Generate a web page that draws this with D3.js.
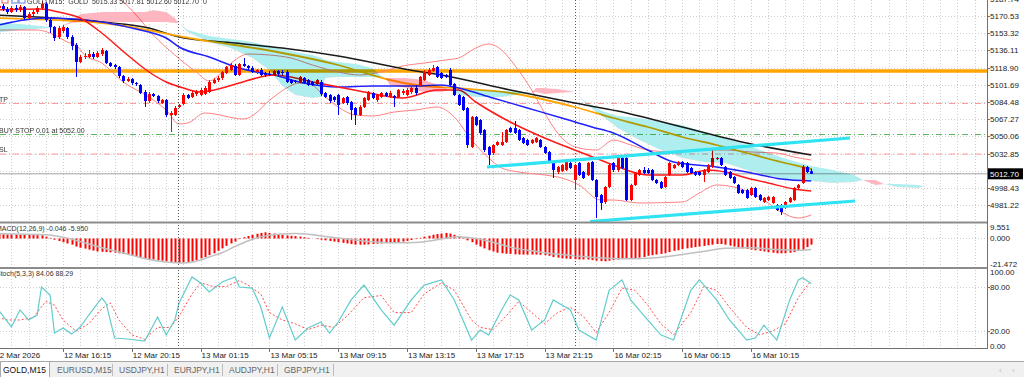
<!DOCTYPE html>
<meta charset="utf-8">
<style>
body { margin: 0; background: #fff; }
text { font-family: 'Liberation Sans', Arial, sans-serif; font-size: 8px; fill: #222; }
.small { font-size: 7px; fill: #333; }
.tab { font-size: 8.5px; fill: #555; }
</style>
<svg width="1024" height="377"></svg>
<script src="https://d3js.org/d3.v7.min.js"></script>
<script>

// ---- price data (GOLD, M15), one value per bar ----
var barOpen = [5176.5,5178.5,5180.5,5177.5,5174.5,5178.5,5176.5,5179.5,5168.5,5172.5,
5174.5,5178.5,5182.5,5166.5,5159.5,5149.5,5155.5,5158.5,5149.5,5141.5,
5124.5,5129.5,5129.5,5132.5,5129.5,5132.5,5135.5,5123.5,5121.5,5119.5,
5110.5,5105.5,5107.5,5103.5,5101.5,5094.5,5085.5,5092.5,5090.5,5083.5,
5086.5,5071.5,5071.5,5079.5,5082.5,5091.5,5089.5,5092.5,5091.5,5092.5,
5094.5,5103.5,5106.5,5108.5,5113.5,5116.5,5120.5,5111.5,5122.5,5120.5,
5118.5,5114.5,5116.5,5113.5,5112.5,5111.5,5115.5,5114.5,5114.5,5106.5,
5105.5,5104.5,5108.5,5106.5,5104.5,5102.5,5104.5,5093.5,5091.5,5089.5,
5091.5,5083.5,5089.5,5084.5,5078.5,5071.5,5079.5,5086.5,5093.5,5086.5,
5089.5,5093.5,5089.5,5090.5,5089.5,5093.5,5091.5,5094.5,5098.5,5101.5,
5106.5,5111.5,5115.5,5119.5,5113.5,5111.5,5116.5,5102.5,5091.5,5089.5,
5078.5,5039.5,5069.5,5066.5,5056.5,5039.5,5033.5,5041.5,5041.5,5044.5,
5058.5,5058.5,5056.5,5048.5,5046.5,5043.5,5044.5,5046.5,5039.5,5034.5,
5024.5,5014.5,5015.5,5016.5,5023.5,5006.5,5023.5,5014.5,5011.5,5024.5,
5006.5,4991.5,4984.5,4999.5,5023.5,5016.5,5028.5,5028.5,4986.5,5001.5,
5011.5,5016.5,5016.5,5016.5,5006.5,5004.5,4999.5,5011.5,5018.5,5021.5,
5024.5,5023.5,5018.5,5014.5,5014.5,5011.5,5014.5,5019.5,5027.5,5028.5,
5019.5,5014.5,5009.5,5001.5,4996.5,4996.5,4991.5,4998.5,4991.5,4984.5,
4986.5,4983.5,4981.5,4981.5,4978.5,4984.5,4986.5,4998.5,5003.5,5019.5,5015.33];

var barHigh = [5180.5,5183.5,5182.5,5179.5,5180.5,5181.5,5181.5,5180.5,5174.5,5176.5,
5180.5,5185.5,5184.5,5168.5,5160.5,5160.5,5161.5,5159.5,5151.5,5143.5,
5131.5,5133.5,5136.5,5134.5,5135.5,5138.5,5136.5,5124.5,5122.5,5120.5,
5111.5,5109.5,5108.5,5104.5,5102.5,5096.5,5094.5,5093.5,5091.5,5087.5,
5087.5,5075.5,5080.5,5082.5,5093.5,5092.5,5095.5,5096.5,5098.5,5100.5,
5106.5,5108.5,5110.5,5115.5,5120.5,5123.5,5122.5,5123.5,5128.5,5121.5,
5120.5,5117.5,5118.5,5114.5,5115.5,5116.5,5116.5,5116.5,5116.5,5107.5,
5106.5,5110.5,5109.5,5107.5,5105.5,5107.5,5106.5,5094.5,5092.5,5090.5,
5092.5,5089.5,5090.5,5085.5,5079.5,5081.5,5089.5,5095.5,5094.5,5092.5,
5094.5,5094.5,5095.5,5091.5,5097.5,5097.5,5098.5,5099.5,5101.5,5110.5,
5116.5,5118.5,5121.5,5120.5,5114.5,5112.5,5118.5,5103.5,5092.5,5090.5,
5079.5,5070.5,5070.5,5067.5,5057.5,5040.5,5042.5,5045.5,5054.5,5057.5,
5059.5,5065.5,5057.5,5049.5,5047.5,5047.5,5049.5,5047.5,5040.5,5035.5,
5025.5,5020.5,5022.5,5027.5,5024.5,5022.5,5024.5,5015.5,5024.5,5025.5,
5007.5,4992.5,5000.5,5022.5,5024.5,5030.5,5029.5,5029.5,5002.5,5014.5,
5017.5,5019.5,5018.5,5017.5,5007.5,5005.5,5010.5,5024.5,5022.5,5025.5,
5025.5,5024.5,5019.5,5015.5,5015.5,5017.5,5022.5,5036.5,5029.5,5029.5,
5020.5,5015.5,5010.5,5002.5,4997.5,4997.5,4999.5,4999.5,4992.5,4989.5,
4990.5,4990.5,4982.5,4982.5,4985.5,4989.5,4999.5,5002.5,5021.5,5020.5,5017.81];

var barLow = [5174.5,5176.5,5175.5,5172.5,5173.5,5174.5,5174.5,5166.5,5167.5,5170.5,
5172.5,5176.5,5164.5,5153.5,5145.5,5147.5,5153.5,5147.5,5136.5,5109.5,
5123.5,5127.5,5128.5,5127.5,5128.5,5130.5,5122.5,5119.5,5117.5,5108.5,
5103.5,5104.5,5101.5,5100.5,5092.5,5079.5,5083.5,5089.5,5083.5,5082.5,
5069.5,5054.5,5070.5,5078.5,5081.5,5087.5,5088.5,5090.5,5090.5,5091.5,
5093.5,5102.5,5104.5,5106.5,5112.5,5115.5,5110.5,5110.5,5119.5,5116.5,
5113.5,5112.5,5110.5,5109.5,5110.5,5110.5,5110.5,5111.5,5103.5,5102.5,
5103.5,5103.5,5102.5,5100.5,5100.5,5101.5,5090.5,5088.5,5083.5,5084.5,
5071.5,5082.5,5081.5,5066.5,5061.5,5070.5,5078.5,5085.5,5087.5,5084.5,
5088.5,5089.5,5088.5,5079.5,5088.5,5091.5,5090.5,5092.5,5091.5,5100.5,
5105.5,5110.5,5114.5,5108.5,5107.5,5108.5,5100.5,5090.5,5080.5,5075.5,
5038.5,5038.5,5060.5,5051.5,5034.5,5021.5,5031.5,5040.5,5040.5,5043.5,
5053.5,5052.5,5045.5,5042.5,5040.5,5042.5,5043.5,5038.5,5032.5,5023.5,
5008.5,5012.5,5014.5,5015.5,5017.5,4996.5,5010.5,5007.5,5010.5,5005.5,
4968.5,4976.5,4982.5,4998.5,5014.5,5014.5,5017.5,4985.5,4985.5,5000.5,
5010.5,5012.5,5012.5,5005.5,5002.5,4997.5,4998.5,5010.5,5017.5,5020.5,
5018.5,5013.5,5012.5,5010.5,5010.5,5004.5,5013.5,5018.5,5026.5,5020.5,
5010.5,5007.5,5002.5,4992.5,4992.5,4987.5,4990.5,4988.5,4985.5,4983.5,
4985.5,4982.5,4975.5,4971.5,4977.5,4983.5,4985.5,4997.5,5002.5,5013.5,5012.60];

var barClose = [5178.5,5180.5,5177.5,5174.5,5178.5,5176.5,5179.5,5168.5,5172.5,5174.5,
5178.5,5182.5,5166.5,5159.5,5148.5,5158.5,5159.5,5149.5,5140.5,5124.5,
5129.5,5130.5,5132.5,5129.5,5133.5,5136.5,5123.5,5120.5,5119.5,5110.5,
5105.5,5107.5,5103.5,5102.5,5093.5,5085.5,5092.5,5090.5,5085.5,5086.5,
5071.5,5073.5,5078.5,5081.5,5091.5,5088.5,5093.5,5094.5,5096.5,5098.5,
5104.5,5106.5,5108.5,5114.5,5119.5,5121.5,5111.5,5122.5,5120.5,5118.5,
5114.5,5116.5,5111.5,5111.5,5112,5115.5,5112.5,5114,5104.5,5103.5,
5104.5,5109.5,5103.5,5101.5,5101.5,5106.5,5092.5,5089.5,5085.5,5086.5,
5081.5,5088.5,5083.5,5076.5,5071.5,5079.5,5088.5,5094.5,5088.5,5091.5,
5093.5,5090.5,5093.5,5088.5,5096.5,5095.5,5096.5,5098.5,5093.5,5109.5,
5114.5,5116.5,5118.5,5109.5,5108.5,5109.5,5101.5,5091.5,5081.5,5076.5,
5041.5,5069.5,5061.5,5053.5,5036.5,5031.5,5041.5,5044.5,5044.5,5056.5,
5054.5,5053.5,5046.5,5043.5,5041.5,5046.5,5048.5,5039.5,5033.5,5024.5,
5016.5,5019.5,5021.5,5026.5,5018.5,5021.5,5011.5,5008.5,5023.5,5006.5,
4989.5,4983.5,4999.5,5021.5,5016.5,5029.5,5018.5,4986.5,5001.5,5013.5,
5016.5,5013.5,5013.5,5006.5,5003.5,4998.5,5009.5,5023.5,5021.5,5024.5,
5019.5,5014.5,5013.5,5011.5,5011.5,5016.5,5021.5,5028.5,5028.5,5021.5,
5011.5,5008.5,5003.5,4993.5,4993.5,4988.5,4998.5,4989.5,4986.5,4988.5,
4989.5,4989.5,4976.5,4974.5,4984.5,4988.5,4998.5,5001.5,5019.5,5014.5,5012.70];

// ---- indicator lines, read as [bar, value] points ----
var maFast = [[0,5176.5],[11,5177.5],[15,5174.5],[20,5168.5],[25,5153.5],[31,5131.5],[36,5114.5],[40,5104.5],[44,5098.5],[48,5094.5],[50,5095.5],[57,5103.5],[61,5108.5],[65,5111.5],[69,5109.5],[72,5106.5],[80,5099.5],[86,5094.5],[95,5088.5],[103,5096.5],[108,5096.5],[112,5084.5],[120,5064.5],[128,5048.5],[135,5036.5],[141,5026.5],[144,5021.5],[152,5011.5],[160,5011.5],[166,5016.5],[170,5014.5],[175,5008.5],[180,5003.5],[186,4997.5],[190,4995.5]];
var maMid = [[0,5160.5],[12,5168.5],[25,5164.5],[32,5158.5],[36,5154.5],[40,5148.5],[43,5139.5],[50,5129.5],[57,5118.5],[61,5114.5],[65,5111.5],[72,5103.5],[80,5099.5],[88,5100.5],[98,5100.5],[104,5101.5],[108,5098.5],[116,5088.5],[124,5078.5],[132,5068.5],[139,5059.5],[144,5053.5],[152,5036.5],[158,5024.5],[168,5019.5],[175,5014.5],[183,5007.5],[190,5005.5]];
var maSlow = [[0,5168.5],[25,5163.5],[48,5146.5],[56,5141.5],[67,5133.5],[80,5121.5],[92,5106.5],[98,5101.5],[107,5098.5],[120,5093.5],[135,5079.5],[144,5068.5],[152,5059.5],[160,5049.5],[168,5041.5],[175,5033.5],[183,5024.5],[188,5019.5],[190,5017.5]];
var maLong = [[0,5171.5],[25,5164.5],[36,5158.5],[43,5149.5],[56,5143.5],[67,5138.5],[80,5130.5],[98,5115.5],[104,5111.5],[120,5096.5],[135,5083.5],[145,5075.5],[160,5059.5],[175,5043.5],[190,5031.5]];
var bandUpper = [[0,5195],[10,5200],[20,5200],[25,5196],[28,5191.5],[33,5171.5],[37,5151.5],[42,5131.5],[47,5114.5],[50,5105.5],[53,5114.5],[56,5126.5],[59,5132.5],[64,5131.5],[69,5128.5],[74,5121.5],[80,5114.5],[85,5111.5],[90,5114.5],[95,5120.5],[100,5123.5],[105,5126.5],[108,5128.5],[112,5138.5],[115,5142.5],[118,5136.5],[121,5121.5],[125,5096.5],[128,5073.5],[132,5048.5],[136,5038.5],[140,5036.5],[144,5046.5],[148,5041.5],[152,5036.5],[158,5034.5],[165,5036.5],[170,5036.5],[176,5034.5],[182,5033.5],[186,5029.5],[190,5026.5]];
var bandLower = [[0,5156.5],[10,5156.5],[14,5151.5],[17,5144.5],[19,5141.5],[21,5131.5],[25,5123.5],[30,5104.5],[36,5089.5],[40,5076.5],[43,5062.5],[45,5063.5],[49,5073.5],[58,5067.5],[65,5089.5],[68,5098.5],[71,5103.5],[74,5101.5],[76,5093.5],[80,5079.5],[84,5071.5],[88,5070.5],[93,5074.5],[98,5076.5],[103,5079.5],[107,5069.5],[111,5046.5],[115,5028.5],[118,5018.5],[122,5014.5],[128,5011.5],[132,5008.5],[136,5001.5],[141,4986.5],[144,4986.5],[150,4983.5],[160,4984.5],[164,4993.5],[168,5001.5],[172,4999.5],[179,4986.5],[183,4974.5],[187,4968.5],[190,4971.5]];

// Ichimoku cloud (shifted 26 bars forward)
var cloudBars = [0,6,13,15,18,20,25,35,37,40,42,43,45,50,55,60,64,67,70,74,76,77,80,84,88,90,91,92,96,100,104,106,108,112,118,124,125,126,128,131,134,135,137,140,142,145,150,155,160,165,170,175,180,185,190,195,200,202,205,207,210,215,216];
var spanA = [5164.5,5162.5,5159.5,5159,5163.5,5164.5,5164.5,5164.5,5164.5,5164.5,5163.5,5163.5,5156.5,5150.5,5147.5,5144.5,5140.5,5137.5,5134.5,5131.5,5128.5,5126.5,5124.5,5122.5,5118.5,5110.5,5108.5,5101.5,5098.5,5094.5,5094.5,5096.5,5096.5,5096.5,5095.5,5094.5,5094,5094.5,5092.5,5093.5,5094.5,5094.5,5086.5,5078.5,5074.5,5070.5,5068.5,5064.5,5061.5,5054.5,5048.5,5041.5,5033.5,5026.5,5020.5,5016.5,5011.5,5006.5,5001.5,5002.5,5002.5,5001.5,5000];
var spanB = [5153.5,5156.5,5158.5,5159,5165.5,5172.5,5174.5,5174.5,5176.5,5174.5,5168.5,5163.5,5154.5,5144.5,5138.5,5128.5,5116.5,5100.5,5091.5,5088.5,5089.5,5108.5,5109.5,5109.5,5109.5,5109.5,5108.5,5108.5,5108.5,5106.5,5100.5,5096.5,5091.5,5089.5,5089.5,5093.5,5094,5098.5,5098.5,5097.5,5095.5,5094.5,5085.5,5074.5,5068.5,5058.5,5046.5,5036.5,5028.5,5024.5,5023.5,5016.5,5010.5,5006.5,5005.5,5003.5,5004.5,5006.5,5006.5,5002.5,4999.5,4998.5,5000];

// MACD(12,26,9): histogram per bar and signal points
var macdHist = [3.6,3.5,3.4,3.3,3.3,3.2,3.1,3.0,2.9,2.8,2.7,2.6,
1.5,0.5,-1,-2,-3,-4,-5,-6.5,-7.5,
-8.2,-9,-9.8,-10.5,-10.8,-11,-11.2,-11.5,-12,-12.5,
-13.2,-14,-14.5,-15,-15.8,-16.5,-17,-17.5,-18,-18.5,-19,-19.5,-20,
-19.5,-19,-18.5,-17.5,-16,-15,-13.5,-12,-10,-8,-6,-4,-2.5,-0.5,
1,2,3,3.8,4.5,5,4.5,4,3.5,3,2.5,2.2,2,
1.5,1,0.5,0,-0.5,-1,-1.5,-2,-2.5,-3,-3.5,-4,-4.5,-5,-5,-5,
-4.8,-4.5,-4.2,-4,-3.8,-3.5,-3.2,-3,-2.5,-2,-1.2,-0.5,0.5,
1.5,2.2,3,3.6,4,4.5,4,3,2,0.5,-1.5,
-3,-5,-6.5,-8,-9.5,-10.5,-11.5,-12,-12.3,-12.5,-12.8,-13,-13,-13,-13,
-13,-13.2,-13.5,-14,-15,-15.5,-16,-16.3,-16.5,-16.8,-17,-17,-17,-17.5,-18,
-18.3,-18.5,-18,-17.5,-17,-16.5,-16.5,-16.5,-16,-15.5,-15,-14,-13.5,-13,-12.5,
-12,-11,-10,-9.5,-8.5,-8,-7.5,-7,-6.5,-6,-5.5,-5,-4.5,-4.5,-5,
-5.8,-6.5,-7.2,-8,-8.5,-9,-9.5,-10,-10.5,-11,-11.5,-12,-12,-12,-11.5,-11,-10,-9,-7,-5];
var macdSignal = [[0,3.8],[12,3],[16,1],[20,-2.5],[24,-6.5],[28,-10],[32,-13.5],[36,-17],[40,-19],[44,-19.8],[47,-18.5],[50,-15],[53,-11.5],[56,-6.5],[59,-2],[62,1.3],[66,3.5],[70,4],[74,3],[78,1.2],[82,-0.5],[87,-2.5],[93,-3.5],[99,-3],[104,-0.5],[108,1.5],[112,0],[116,-3],[120,-7],[126,-10.5],[132,-13],[140,-15.5],[146,-16.5],[152,-16],[158,-14],[164,-11],[170,-8],[176,-7.5],[182,-9],[188,-9.5],[190,-9]];

// Stochastic(5,3,3)
var stochMain = [[0,50],[1,48.5],[4,25.6],[6,48.5],[8,35],[10,41.7],[11,79.4],[13,68.6],[14,17.5],[16,24.2],[18,16],[20,25.6],[22,41.7],[25,64.6],[26,57.9],[28,10.8],[31,9.4],[35,6.7],[38,39],[40,14.8],[42,35],[43,57.9],[46,92.9],[48,84.8],[50,72.7],[53,86.1],[56,92.9],[57,79.4],[60,78],[62,52.5],[64,10.8],[67,52.5],[70,8.1],[73,24.2],[76,32.3],[78,17.5],[80,32.3],[83,62],[86,82],[90,48.5],[93,28],[97,62],[100,82],[104,89],[107,62],[111,8],[113,21.5],[115,15],[118,48.5],[120,68.6],[122,62],[125,21.5],[128,35],[130,62],[134,48.5],[136,21.5],[140,8],[143,75],[146,89],[148,62],[151,41.7],[155,15],[158,8],[162,75],[164,89],[168,62],[171,35],[175,8],[177,10.8],[179,28],[182,8],[185,62],[187,89],[188,92],[190,84.06]];
var stochSignal = [[0,40],[3,35],[6,35],[9,38],[12,60],[14,55],[16,35],[19,20],[22,30],[25,50],[27,58],[29,35],[32,15],[35,9],[38,25],[41,25],[43,40],[46,70],[48,85],[51,80],[54,80],[57,88],[59,82],[62,70],[64,45],[67,35],[70,30],[73,22],[76,28],[79,25],[82,40],[86,65],[90,68],[93,45],[97,45],[100,70],[104,85],[107,75],[111,35],[113,25],[116,22],[119,40],[122,60],[125,45],[128,30],[131,45],[134,52],[137,40],[140,18],[143,45],[146,78],[149,75],[152,55],[155,30],[158,15],[162,45],[165,80],[168,75],[171,52],[175,25],[178,15],[181,20],[184,30],[187,65],[190,88.29]];

// levels and objects
var priceTicks = [5187.74,5170.53,5153.32,5136.11,5118.90,5101.69,5084.48,5067.27,5050.06,5032.85,5015.64,4998.43,4981.22];
var levelOrange = 5115.5, levelTP = 5083, levelBuyStop = 5052.00, levelSL = 5032.5, lastPrice = 5012.70;
var channelUpper = [[114.6,5019.5],[199,5048.5]];
var channelLower = [[138.6,4965],[200.2,4985.5]];
var sessionBreaks = [42.7, 135.1];
var timeTickBars = [0,16,32,48,64,80,96,112,128,144,160,176];
var timeTickLabels = ["12 Mar 2026","12 Mar 16:15","12 Mar 20:15","13 Mar 01:15","13 Mar 05:15","13 Mar 09:15","13 Mar 13:15","13 Mar 17:15","13 Mar 21:15","16 Mar 02:15","16 Mar 06:15","16 Mar 10:15"];
var tabNames = ["GOLD,M15","EURUSD,M15","USDJPY,H1","EURJPY,H1","AUDJPY,H1","GBPJPY,H1"];

// ---- scales ----
var svg = d3.select("svg"),
    axisX = 987,
    x = d3.scaleLinear().domain([0, 190]).range([-5.8, 811.2]),
    yP = d3.scaleLinear().domain([4981.5, 5170.5]).range([205, 16]),
    yM = d3.scaleLinear().domain([-21.472, 9.551]).range([265, 226.7]),
    yS = d3.scaleLinear().domain([0, 100]).range([346, 271.7]);

var defs = svg.append("defs");
function addClip(id, x0, y0, w, h) {
  defs.append("clipPath").attr("id", id).append("rect")
    .attr("x", x0).attr("y", y0).attr("width", w).attr("height", h);
}
addClip("cMain", 0, 0, axisX, 222);
addClip("cMacd", 0, 224, axisX, 43);
addClip("cStoch", 0, 269, axisX, 79);

// grid
var gridBars = d3.range(0, 232, 4);
var grid = svg.append("g").attr("stroke", "#cfcfcf").attr("stroke-dasharray", "1,2");
grid.selectAll(".gv").data(gridBars).enter().append("line")
  .attr("x1", d => Math.round(x(d)) + 0.5).attr("x2", d => Math.round(x(d)) + 0.5)
  .attr("y1", 0).attr("y2", 348)
  .attr("display", d => x(d) < axisX ? null : "none");
grid.selectAll(".gh").data(priceTicks).enter().append("line")
  .attr("x1", 0).attr("x2", axisX)
  .attr("y1", d => Math.round(yP(d)) + 0.5).attr("y2", d => Math.round(yP(d)) + 0.5);
grid.selectAll(".gs").data([80, 20]).enter().append("line")
  .attr("x1", 0).attr("x2", axisX)
  .attr("y1", d => Math.round(yS(d)) + 0.5).attr("y2", d => Math.round(yS(d)) + 0.5);
grid.append("line").attr("x1", 0).attr("x2", axisX)
  .attr("y1", Math.round(yM(0)) + 0.5).attr("y2", Math.round(yM(0)) + 0.5);

// ---- main panel ----
var main = svg.append("g").attr("clip-path", "url(#cMain)");

function hLevel(p, color, width, dash) {
  main.append("line").attr("x1", 0).attr("x2", axisX)
    .attr("y1", yP(p)).attr("y2", yP(p))
    .attr("stroke", color).attr("stroke-width", width)
    .attr("stroke-dasharray", dash);
}
hLevel(levelOrange, "#ffa500", 3.5, null);
hLevel(levelTP, "#ff9a9a", 1, "6,3,1,3");
hLevel(levelBuyStop, "#5cb85c", 1, "6,3,1,3");
hLevel(levelSL, "#ff9a9a", 1, "6,3,1,3");
hLevel(lastPrice, "#a0a0a0", 1, null);

var ptLine = d3.line().x(d => x(d[0])).y(d => yP(d[1])).curve(d3.curveMonotoneX);
function drawPts(pts, color, width) {
  main.append("path").attr("d", ptLine(pts)).attr("fill", "none")
    .attr("stroke", color).attr("stroke-width", width);
}
drawPts(bandUpper, "#ff8080", 1);
drawPts(bandLower, "#ff8080", 1);
drawPts(maLong, "#1a1a1a", 1.5);
drawPts(maSlow, "#ffa500", 1.8);
drawPts(maMid, "#2020ff", 1.5);
drawPts(maFast, "#ff1a1a", 1.5);

// candles
var bars = barOpen.map((o, i) => ({i: i, o: o, h: barHigh[i], l: barLow[i], c: barClose[i]}));
var candle = main.selectAll(".candle").data(bars).enter().append("g");
candle.append("line")
  .attr("x1", d => Math.round(x(d.i)) + 0.5).attr("x2", d => Math.round(x(d.i)) + 0.5)
  .attr("y1", d => yP(d.h)).attr("y2", d => yP(d.l))
  .attr("stroke", d => d.c >= d.o ? "#ff0000" : "#0000ff");
candle.append("rect")
  .attr("x", d => Math.round(x(d.i)) - 1).attr("width", 3)
  .attr("y", d => yP(Math.max(d.o, d.c)))
  .attr("height", d => Math.max(1, Math.abs(yP(d.o) - yP(d.c))))
  .attr("fill", d => d.c >= d.o ? "#ff0000" : "#0000ff");

// Ichimoku cloud, blended like the terminal does
var cloud = cloudBars.map((b, k) => ({i: b, a: spanA[k], b: spanB[k]}));
defs.append("clipPath").attr("id", "aboveB").append("path")
  .attr("d", d3.area().x(d => x(d.i)).y0(-50).y1(d => yP(d.b))(cloud));
defs.append("clipPath").attr("id", "belowB").append("path")
  .attr("d", d3.area().x(d => x(d.i)).y0(d => yP(d.b)).y1(400)(cloud));
var between = d3.area().x(d => x(d.i)).y0(d => yP(d.a)).y1(d => yP(d.b));
var cloudG = main.append("g").style("mix-blend-mode", "multiply");
cloudG.append("g").attr("clip-path", "url(#aboveB)")
  .append("path").attr("d", between(cloud)).attr("fill", "#afeeee");
cloudG.append("g").attr("clip-path", "url(#belowB)")
  .append("path").attr("d", between(cloud)).attr("fill", "#ffb6c1");

// channel lines
[channelUpper, channelLower].forEach(function(seg) {
  main.append("line")
    .attr("x1", x(seg[0][0])).attr("y1", yP(seg[0][1]))
    .attr("x2", x(seg[1][0])).attr("y2", yP(seg[1][1]))
    .attr("stroke", "#2fe3f3").attr("stroke-width", 3.2);
});

// labels on main panel
main.append("text").attr("class", "small").attr("x", -1).attr("y", yP(levelTP) - 2).text("TP");
main.append("text").attr("class", "small").attr("x", -1).attr("y", yP(levelBuyStop) - 2).text("BUY STOP 0.01 at 5052.00");
main.append("text").attr("class", "small").attr("x", -1).attr("y", yP(levelSL) - 2).text("SL");
main.append("text").attr("class", "small").attr("x", 27).attr("y", 4).style("white-space", "pre")
  .text("GOLD,M15:  GOLD  5015.33 5017.81 5012.60 5012.70  0");
main.append("rect").attr("x", 2).attr("y", -2).attr("width", 6).attr("height", 5)
  .attr("fill", "#fff").attr("stroke", "#e06060");
main.append("rect").attr("x", 12).attr("y", -2).attr("width", 6).attr("height", 5)
  .attr("fill", "#fff").attr("stroke", "#6080d0");
main.append("rect").attr("x", 19).attr("y", -2).attr("width", 6).attr("height", 5)
  .attr("fill", "#fff").attr("stroke", "#6080d0");

// ---- MACD panel ----
var macdG = svg.append("g").attr("clip-path", "url(#cMacd)");
macdG.selectAll(".mh").data(macdHist).enter().append("rect")
  .attr("x", (d, i) => Math.round(x(i)) - 0.5).attr("width", 2)
  .attr("y", d => Math.min(yM(0), yM(d)))
  .attr("height", d => Math.abs(yM(d) - yM(0)))
  .attr("fill", "#ff0000");
macdG.append("path")
  .attr("d", d3.line().x(d => x(d[0])).y(d => yM(d[1])).curve(d3.curveMonotoneX)(macdSignal))
  .attr("fill", "none").attr("stroke", "#c0c0c0").attr("stroke-width", 1.5);
macdG.append("text").attr("class", "small").attr("x", -4).attr("y", 231).text("MACD(12,26,9) -0.046 -5.950");

// ---- Stochastic panel ----
var stochG = svg.append("g").attr("clip-path", "url(#cStoch)");
var sLine = d3.line().x(d => x(d[0])).y(d => yS(d[1]));
stochG.append("path").attr("d", sLine(stochSignal)).attr("fill", "none")
  .attr("stroke", "#ff4d4d").attr("stroke-width", 1).attr("stroke-dasharray", "2,2");
stochG.append("path").attr("d", sLine(stochMain)).attr("fill", "none")
  .attr("stroke", "#62cccc").attr("stroke-width", 1.2);
stochG.append("text").attr("class", "small").attr("x", -4).attr("y", 276).text("Stoch(5,3,3) 84.06 88.29");

// session separators
svg.selectAll(".sep").data(sessionBreaks).enter().append("line")
  .attr("x1", d => Math.round(x(d)) + 0.5).attr("x2", d => Math.round(x(d)) + 0.5)
  .attr("y1", 0).attr("y2", 348)
  .attr("stroke", "#555").attr("stroke-dasharray", "1,2");

// panel frames
svg.append("line").attr("x1", 0).attr("x2", axisX).attr("y1", 222.5).attr("y2", 222.5)
  .attr("stroke", "#8c8c8c").attr("stroke-width", 2);
svg.append("line").attr("x1", 0).attr("x2", axisX).attr("y1", 268).attr("y2", 268)
  .attr("stroke", "#8c8c8c").attr("stroke-width", 2);
svg.append("line").attr("x1", 0).attr("x2", axisX).attr("y1", 348.5).attr("y2", 348.5)
  .attr("stroke", "#707070");
svg.append("line").attr("x1", axisX + 0.5).attr("x2", axisX + 0.5).attr("y1", 0).attr("y2", 349)
  .attr("stroke", "#707070");

// right price axis
var rAxis = svg.append("g");
rAxis.selectAll(".pt").data(priceTicks).enter().append("text")
  .attr("x", 990).attr("y", d => yP(d) + 3).text(d => d.toFixed(2));
rAxis.selectAll(".ptk").data(priceTicks).enter().append("line")
  .attr("x1", axisX).attr("x2", axisX + 3)
  .attr("y1", d => Math.round(yP(d)) + 0.5).attr("y2", d => Math.round(yP(d)) + 0.5)
  .attr("stroke", "#707070");
rAxis.append("rect").attr("x", 988).attr("y", yP(lastPrice) - 5.5).attr("width", 35).attr("height", 11)
  .attr("fill", "#000");
rAxis.append("text").attr("x", 990).attr("y", yP(lastPrice) + 3).style("fill", "#fff")
  .text(lastPrice.toFixed(2));

var macdTicks = [9.551, 0, -21.472];
rAxis.selectAll(".mt").data(macdTicks).enter().append("text")
  .attr("x", 990).attr("y", d => Math.min(yM(d) + 3, 267)).text(d => d.toFixed(3));
var stochTicks = [100, 80, 20, 0];
rAxis.selectAll(".st").data(stochTicks).enter().append("text")
  .attr("x", 990).attr("y", d => yS(d) + 3).text(d => d.toFixed(2));
rAxis.selectAll(".stk").data([80, 20]).enter().append("line")
  .attr("x1", axisX).attr("x2", axisX + 3)
  .attr("y1", d => Math.round(yS(d)) + 0.5).attr("y2", d => Math.round(yS(d)) + 0.5)
  .attr("stroke", "#707070");

// time axis
var tAxis = svg.append("g");
tAxis.selectAll(".tk").data(timeTickBars).enter().append("line")
  .attr("x1", d => Math.round(x(d)) + 0.5).attr("x2", d => Math.round(x(d)) + 0.5)
  .attr("y1", 348).attr("y2", 352).attr("stroke", "#707070");
tAxis.selectAll(".tl").data(timeTickBars).enter().append("text")
  .attr("x", d => x(d) + 1).attr("y", 358)
  .text((d, k) => timeTickLabels[k]);

// tab strip
svg.append("rect").attr("x", 0).attr("y", 361).attr("width", 1024).attr("height", 16).attr("fill", "#f0f0f0");
svg.append("line").attr("x1", 0).attr("x2", 1024).attr("y1", 361.5).attr("y2", 361.5).attr("stroke", "#a8a8a8");
var tabW = [50, 62, 55, 55, 55, 56];
var tabX = tabW.reduce((acc, w, k) => acc.concat([acc[k] + w]), [0]);
svg.append("rect").attr("x", 0.5).attr("y", 361.5).attr("width", 49).attr("height", 16)
  .attr("fill", "#fff").attr("stroke", "#a8a8a8");
svg.selectAll(".tabsep").data(tabX.slice(2)).enter().append("line")
  .attr("x1", d => d + 0.5).attr("x2", d => d + 0.5).attr("y1", 364).attr("y2", 376)
  .attr("stroke", "#bdbdbd");
svg.selectAll(".tabtxt").data(tabNames).enter().append("text")
  .attr("class", "tab")
  .attr("x", (d, k) => tabX[k] + (k === 0 ? 3 : 7)).attr("y", 373)
  .style("fill", (d, k) => k === 0 ? "#111" : "#666")
  .text(d => d);
svg.append("text").attr("x", 999).attr("y", 373).style("fill", "#bbb").text("‹");
svg.append("text").attr("x", 1012).attr("y", 373).style("fill", "#bbb").text("›");

</script>
